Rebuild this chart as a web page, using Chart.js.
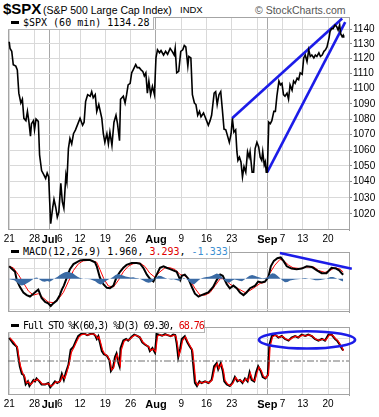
<!DOCTYPE html>
<html><head><meta charset="utf-8">
<script src="https://cdn.jsdelivr.net/npm/chart.js@4.4.0/dist/chart.umd.min.js"></script>
<style>
html,body{margin:0;padding:0;background:#fff;}
#wrap{position:relative;width:379px;height:417px;overflow:hidden;background:#fff;font-family:"Liberation Sans",Arial,sans-serif;}
canvas{position:absolute;left:0;}
.t{position:absolute;white-space:nowrap;color:#000;}
.lg{position:absolute;left:8px;height:12px;background:#fff;border-right:1px solid #b4b4b4;border-bottom:1px solid #b4b4b4;font-family:"DejaVu Sans Mono",monospace;font-size:10px;line-height:12px;white-space:nowrap;z-index:5;color:#000;}
.lg .mk{display:inline-block;width:8px;height:3px;background:#000;vertical-align:middle;margin:0 4px 2px 3px;}
</style></head><body>
<div id="wrap">
  <span class="t" style="left:3px;top:1px;font:bold 15px/15px 'Liberation Sans',Arial,sans-serif;">$SPX</span>
  <span class="t" style="left:43px;top:4px;font:10.5px/12px 'Liberation Sans',Arial,sans-serif;">(S&amp;P 500 Large Cap Index)</span>
  <span class="t" style="left:180px;top:4px;font:9.5px/12px 'Liberation Sans',Arial,sans-serif;">INDX</span>
  <span class="t" style="left:255px;top:4px;font:10.5px/12px 'Liberation Sans',Arial,sans-serif;color:#555;">© StockCharts.com</span>
  <canvas id="cA" width="379" height="245" style="top:0px"></canvas>
  <canvas id="cB" width="379" height="74" style="top:245px"></canvas>
  <canvas id="cC" width="379" height="97" style="top:320px"></canvas>
  <div class="lg" style="top:17px;width:145px"><span class="mk"></span>$SPX (60 min) 1134.28</div>
  <div class="lg" style="top:246px;width:221px"><span class="mk"></span>MACD(12,26,9) 1.960, <span style="color:#e00000">3.293</span>, <span style="color:#3d8fd1">-1.333</span></div>
  <div class="lg" style="top:320px;width:196px;letter-spacing:-1px"><span class="mk"></span>Full STO %K(60,3) %D(3) 69.30, <span style="color:#e00000">68.76</span></div>
</div>
<script>
// ---------- data (x = trading-day index from Jun 21, 2010) ----------
const gridDays   = [0, 5, 8, 10, 14, 19, 24, 29, 34, 39, 44, 49, 51, 54, 58, 63];
const gridLabels = ['21','28','Jul','6','12','19','26','Aug','9','16','23','','Sep','7','13','20'];
const monthDays  = [8, 29, 51];

const priceTicks = [1020,1030,1040,1050,1060,1070,1080,1090,1100,1110,1120,1130,1140];
const macdTicks  = [-15,-10,-5,0,5,10];
const macdLabels = [-10,0,10];
const stoTicks   = [0,10,20,30,40,60,70,80,90,100];
const stoLabels  = [20,50,80];

const price = [[0,1131.5],[0.16,1127],[0.5,1125],[0.8,1116],[1.3,1115],[1.6,1112.5],[1.9,1097],[2.3,1090.5],[2.6,1093],[2.9,1080.5],
[3.3,1079],[3.6,1085],[3.9,1078],[4.2,1069],[4.4,1077],[4.8,1079],[5.0,1073],[5.3,1080],[5.75,1078.5],[6.0,1057],
[6.4,1047],[6.9,1044],[7.2,1042],[7.5,1045.5],[7.8,1043],[8.0,1027.5],[8.2,1014],[8.6,1024],[8.85,1029],[9.2,1024],
[9.5,1018],[9.8,1021],[10.2,1039],[10.5,1027.5],[10.8,1023.5],[11.2,1044],[11.4,1040],[11.7,1061],[12.0,1067.5],[12.35,1064],
[12.7,1070.5],[13.1,1073],[13.7,1078],[14.0,1080.5],[14.5,1076],[14.8,1078],[15.1,1091.5],[15.5,1096],[16.0,1095],[16.3,1098],
[16.6,1094],[17.0,1096],[17.3,1085],[17.7,1089.5],[18.3,1080.5],[18.6,1070.5],[18.9,1065],[19.3,1070.5],[19.6,1064],[19.9,1071.5],
[20.3,1063],[20.7,1078],[21.1,1082.5],[21.4,1077],[21.8,1066],[22.0,1093],[22.55,1095],[22.9,1090.5],[23.2,1096],[23.5,1102.5],
[23.9,1103.5],[24.2,1110.5],[24.5,1112.5],[25.0,1116],[25.3,1114],[25.7,1114],[26.05,1112.5],[26.4,1111.5],[26.7,1108.5],[27.0,1110.5],
[27.3,1097],[27.6,1105],[27.95,1096],[28.3,1101.5],[28.7,1096],[29.0,1120.5],[29.3,1126],[29.7,1124],[30.0,1125.5],[30.5,1122.5],
[30.9,1125],[31.3,1123],[31.8,1127],[32.2,1125],[32.6,1122.5],[32.8,1127],[33.1,1110.5],[33.5,1111.5],[33.9,1125],[34.3,1126],
[34.6,1129],[34.9,1128],[35.3,1115],[35.5,1121.5],[35.9,1120.5],[36.2,1096],[36.6,1090.5],[36.9,1089.5],[37.25,1082.5],[37.6,1085],
[37.9,1081.5],[38.4,1084],[38.7,1081.5],[39.0,1079],[39.35,1076],[39.7,1079],[40.0,1082.5],[40.5,1097],[40.8,1098],[41.1,1089.5],
[41.45,1096],[41.8,1098],[42.1,1087],[42.45,1073.5],[42.8,1073],[43.2,1068.5],[43.5,1065],[43.85,1070.5],[44.1,1080.5],[44.4,1071.5],
[44.75,1073],[45.0,1059],[45.2,1053.5],[45.5,1055.5],[45.8,1052.5],[46.1,1043],[46.4,1049.5],[46.75,1046],[47.1,1059],[47.4,1055.5],
[47.6,1059],[48.0,1046],[48.3,1046],[48.6,1061],[48.95,1065],[49.3,1062],[49.6,1055.5],[49.9,1053.5],[50.1,1059],[50.4,1050.5],
[50.6,1052.5],[50.8,1046],[51.0,1046],[51.3,1078],[51.6,1077],[51.9,1079],[52.3,1085],[52.6,1085],[52.9,1095],[53.3,1105],
[53.6,1102.5],[53.9,1103.5],[54.2,1096],[54.5,1095],[54.9,1097],[55.2,1093],[55.5,1102.5],[55.9,1099],[56.2,1105],[56.5,1103.5],
[56.9,1107],[57.2,1106],[57.5,1110.5],[57.9,1109.5],[58.2,1120.5],[58.5,1122.5],[58.85,1118],[59.2,1126],[59.5,1121.5],[59.8,1122.5],
[60.2,1120.5],[60.5,1122.5],[60.8,1121.5],[61.2,1124],[61.5,1121.5],[61.85,1122.5],[62.2,1125],[62.5,1126],[62.8,1128],[63.2,1134],
[63.4,1138.5],[63.7,1140.5],[64.0,1140.5],[64.4,1143],[64.7,1142],[65.0,1139.5],[65.3,1143],[65.5,1137],[65.8,1135],[66.0,1136],[66.1,1134.28]];

const upperTrend = [[44.05,1080.5],[65.8,1147.5]];
const lowerTrend = [[51.0,1046],[66.4,1145]];

const macd = [[0,6.1],[0.3,5.4],[1.15,3.4],[1.5,-0.7],[2.1,-4.0],[2.8,-6.8],[3.45,-8.1],[4.1,-8.8],[4.8,-7.4],[5.4,-6.1],
[5.75,-5.4],[6.4,-9.5],[7.1,-11.5],[7.7,-12.2],[8.2,-13.5],[8.7,-12.2],[9.4,-10.8],[10.0,-8.1],[10.4,-5.4],[10.8,-3.4],
[11.4,0.7],[12.0,4.7],[12.7,7.2],[13.3,8.1],[14.0,9.0],[15.0,9.4],[16.0,9.2],[16.95,8.1],[17.3,6.1],[17.9,0.7],
[18.6,-2.7],[19.3,-4.5],[19.9,-4.7],[20.6,-3.4],[21.2,0.7],[21.9,3.4],[22.55,5.4],[23.2,6.8],[24.2,7.7],[25.2,7.7],
[25.85,7.4],[26.5,5.4],[27.2,2.0],[27.8,0.0],[28.5,-1.4],[29.15,2.0],[29.8,5.4],[30.5,6.1],[31.1,5.4],[31.8,4.7],
[32.4,4.1],[33.1,3.4],[33.8,-0.7],[34.1,1.4],[34.7,2.0],[35.4,0.0],[36.1,-4.1],[36.7,-7.4],[37.4,-8.8],[38.0,-8.1],
[38.7,-7.4],[39.35,-6.8],[40.3,-4.1],[41.0,-0.7],[41.7,2.0],[42.2,1.4],[43.0,-2.7],[43.6,-4.7],[44.3,-3.4],[44.95,-4.7],
[45.6,-6.8],[46.3,-8.1],[46.9,-6.8],[47.6,-4.7],[48.6,-3.4],[49.2,-1.4],[49.9,-1.8],[50.55,-1.4],[51.2,0.65],[51.7,6.1],
[52.3,8.8],[53.0,10.1],[53.65,10.5],[54.2,8.8],[54.85,6.1],[55.8,5.0],[56.8,4.7],[57.8,5.0],[58.8,6.1],[59.8,5.8],
[60.8,4.1],[61.75,2.7],[62.7,2.7],[63.7,5.4],[64.6,5.0],[65.2,4.1],[65.7,2.7],[66.0,1.96]];

const signal = [[0,6.1],[0.8,5.4],[1.8,2.0],[2.8,-2.0],[3.8,-6.1],[4.8,-8.1],[5.75,-7.4],[6.75,-9.5],[7.7,-11.5],[8.7,-11.8],
[9.7,-10.1],[10.7,-6.8],[11.7,-1.4],[12.7,4.1],[13.7,7.4],[14.6,8.8],[16.0,9.1],[17.3,8.1],[17.9,4.7],[18.7,0.0],
[19.6,-3.6],[20.6,-4.1],[21.6,-0.7],[22.55,3.4],[23.5,6.1],[24.5,7.4],[25.85,7.7],[26.8,6.1],[27.8,2.7],[28.8,0.7],
[29.8,3.4],[30.8,5.4],[31.8,5.4],[32.8,4.5],[33.8,2.0],[34.7,1.4],[35.7,-0.7],[36.7,-4.7],[37.7,-8.1],[38.7,-8.1],
[39.7,-6.8],[40.7,-3.4],[41.7,0.0],[42.6,0.0],[43.6,-2.7],[44.6,-4.1],[45.6,-5.4],[46.6,-6.8],[47.6,-5.8],[48.6,-4.1],
[49.6,-2.3],[50.5,-1.8],[51.5,2.7],[52.5,6.7],[53.5,9.5],[54.2,9.0],[55.2,6.7],[56.1,5.4],[57.5,5.0],[58.8,5.8],
[60.2,5.8],[61.1,4.1],[62.4,3.1],[63.4,4.1],[64.4,5.4],[65.4,4.7],[66.0,3.293]];

const histo = [[0,-0.3],[0.5,-0.5],[1,-0.8],[1.5,-1.8],[2,-2.8],[2.5,-3.4],[3,-3.0],[3.5,-2.2],[4,-1.5],[4.5,-0.6],
[5,0.3],[5.5,0.6],[6,-0.4],[6.5,-1.2],[7,-1.5],[7.5,-1.1],[8,-1.5],[8.5,-0.8],[9,0.2],[9.5,0.9],
[10,1.8],[10.5,2.6],[11,3.2],[11.5,3.4],[12,3.1],[12.5,2.8],[13,1.8],[13.5,1.0],[14,0.3],[14.5,0.1],
[15,-0.2],[15.5,-0.1],[16,-0.3],[16.5,-0.8],[17,-1.2],[17.5,-2.2],[18,-2.8],[18.5,-2.5],[19,-1.2],[19.5,-0.5],
[20,0.1],[20.5,0.8],[21,1.8],[21.5,2.3],[22,2.0],[22.5,1.6],[23,1.1],[23.5,0.8],[24,0.6],[24.5,0.7],
[25,0.4],[25.5,0.2],[26,-0.3],[26.5,-0.9],[27,-1.6],[27.5,-2.0],[28,-1.8],[28.5,-0.8],[29,0.6],[29.5,1.5],
[30,1.3],[30.5,0.7],[31,0.2],[31.5,-0.2],[32,-0.4],[32.5,-0.3],[33,-0.6],[33.5,-1.0],[34,-0.3],[34.5,0.3],
[35,-0.2],[35.5,-1.2],[36,-2.4],[36.5,-2.8],[37,-1.8],[37.5,-0.6],[38,0.2],[38.5,0.6],[39,0.8],[39.5,1.0],
[40,1.3],[40.5,2.0],[41,2.6],[41.5,2.2],[42,1.0],[42.5,-0.8],[43,-1.8],[43.5,-2.0],[44,-1.0],[44.5,-0.4],
[45,-0.6],[45.5,-1.0],[46,-1.2],[46.5,-0.4],[47,0.6],[47.5,1.4],[48,1.8],[48.5,1.5],[49,1.0],[49.5,0.6],
[50,0.2],[50.5,0.4],[51,0.6],[51.5,2.0],[52,2.7],[52.5,2.5],[53,1.4],[53.5,0.3],[54,-0.9],[54.5,-1.8],
[55,-1.6],[55.5,-0.9],[56,-0.6],[56.5,-0.4],[57,-0.3],[57.5,-0.1],[58,0.2],[58.5,0.3],[59,0.1],[59.5,-0.2],
[60,-0.4],[60.5,-0.7],[61,-0.8],[61.5,-0.6],[62,-0.4],[62.5,-0.2],[63,0.4],[63.5,0.9],[64,0.8],[64.5,0.3],
[65,-0.2],[65.5,-0.9],[66,-1.333]];

const macdTrend = [[53.5,12.7],[67.7,4.9]];

const stoK = [[0,92],[0.8,81.7],[1.5,76],[1.8,57],[2.1,40],[2.5,26.6],[2.9,24],[3.25,7.4],[3.7,13],[4.0,4.6],
[4.4,10],[4.8,15.6],[5.1,13],[5.4,18.4],[5.95,13],[6.4,7.4],[7.1,7.4],[7.7,10],[8.1,1.9],[8.6,7.4],
[9.05,13],[9.5,10],[10.0,13],[10.4,26.6],[10.8,15.6],[11.2,29.4],[11.7,43],[12.15,70.6],[12.7,76],[13.2,87],
[13.65,95.4],[14.2,99],[14.8,100],[15.4,97],[16.0,99],[16.6,100],[17.0,96],[17.3,89.9],[17.6,95],[17.9,84],
[18.3,68],[18.7,62.4],[19.3,59.6],[19.8,51.4],[20.1,32],[20.5,37.6],[20.9,57],[21.2,63.5],[21.6,45.9],[21.8,40.4],
[22.0,73.4],[22.55,87.2],[23.1,90],[23.5,87],[24.2,94],[24.7,98],[25.2,96],[25.8,93],[26.3,84],[26.8,80],
[27.5,76],[27.8,68],[28.3,73.4],[28.8,65],[29.15,99],[29.6,98],[30.2,96],[30.8,99],[31.3,97],[31.9,95],
[32.4,98],[32.8,97],[33.1,81.7],[33.4,57],[33.8,73.4],[34.1,90],[34.7,95],[35.2,84],[35.7,76],[36.1,70.6],
[36.4,40],[36.7,10],[37.1,4.6],[37.6,13],[38.0,10],[38.7,13],[39.35,10],[40.0,15.6],[40.5,40.4],[41.0,46],
[41.3,35],[41.8,46],[42.2,32],[42.5,13],[43.0,7.4],[43.6,4.6],[44.1,10],[44.6,21],[45.1,13],[45.6,15.6],
[46.1,10],[46.6,18.4],[47.1,13],[47.5,29.4],[47.9,15.6],[48.4,13],[48.8,29.4],[49.2,40.4],[49.7,32],[50.1,21],
[50.6,18.4],[51.1,24],[51.4,79],[51.9,95.4],[52.5,98],[53.2,92.6],[53.85,95.4],[54.5,90],[55.2,87],[55.8,92.6],
[56.5,95.4],[57.1,92.6],[57.8,98],[58.5,95.4],[59.1,98],[59.8,95.4],[60.4,90],[61.1,87],[61.8,90],[62.4,87],
[63.1,98],[63.7,98],[64.4,90],[64.8,87],[65.2,81.6],[65.7,73.4],[66.0,69.3]];

const stoD = [[0.15,92],[0.95,84],[1.65,74],[1.95,55],[2.25,40],[2.65,28],[3.05,22],[3.4,10],[3.85,12],[4.15,7],
[4.55,10],[4.95,15],[5.25,14],[5.55,17],[6.1,13],[6.55,8],[7.25,8],[7.85,9],[8.25,4],[8.75,7],
[9.2,12],[9.65,11],[10.15,14],[10.55,24],[10.95,18],[11.35,28],[11.85,45],[12.3,66],[12.85,76],[13.35,86],
[13.8,94],[14.35,98],[14.95,99],[15.55,97],[16.15,99],[16.75,99],[17.15,96],[17.45,91],[17.75,94],[18.05,84],
[18.45,70],[18.85,63],[19.45,59],[19.95,50],[20.25,34],[20.65,38],[21.05,55],[21.35,62],[21.75,48],[21.95,42],
[22.15,70],[22.7,86],[23.25,89],[23.65,88],[24.35,94],[24.85,97],[25.35,96],[25.95,92],[26.45,84],[26.95,80],
[27.65,75],[27.95,69],[28.45,72],[28.95,67],[29.3,95],[29.75,98],[30.35,96],[30.95,98],[31.45,97],[32.05,95],
[32.55,97],[32.95,95],[33.25,80],[33.55,60],[33.95,72],[34.25,87],[34.85,94],[35.35,84],[35.85,76],[36.25,69],
[36.55,42],[36.85,13],[37.25,6],[37.75,12],[38.15,10],[38.85,13],[39.5,10],[40.15,16],[40.65,38],[41.15,45],
[41.45,36],[41.95,45],[42.35,32],[42.65,15],[43.15,8],[43.75,5],[44.25,10],[44.75,20],[45.25,14],[45.75,15],
[46.25,11],[46.75,18],[47.25,14],[47.65,28],[48.05,17],[48.55,14],[48.95,28],[49.35,39],[49.85,32],[50.25,22],
[50.75,19],[51.25,26],[51.55,76],[52.05,94],[52.65,97],[53.35,93],[54.0,95],[54.65,90],[55.35,88],[55.95,92],
[56.65,95],[57.25,93],[57.95,97],[58.65,95.5],[59.25,97.5],[59.95,95],[60.55,90],[61.25,87.5],[61.95,89.5],[62.55,87.5],
[63.25,97],[63.85,97],[64.55,90],[64.95,87],[65.35,81],[65.85,73],[66.05,68.76]];

const stoMidLevel = [50];
const ellipseCenter = [58.85, 88.5];   // [day, %K]
const ellipseRadius = [9.5, 15.7];      // [days, %K units]

// ---------- config ----------
const X_MIN = -0.24, X_MAX = 67.15;
const FONT = "'Liberation Sans', Arial, sans-serif";
const BLUE = '#1c1ce8';
const pts = arr => arr.map(p => ({x: p[0], y: p[1]}));

function xScale(showLabels, h) {
  return {
    type: 'linear', position: 'bottom', min: X_MIN, max: X_MAX,
    afterBuildTicks: s => { s.ticks = gridDays.map(v => ({value: v})); },
    ticks: {
      display: showLabels, autoSkip: false, maxRotation: 0, minRotation: 0, padding: 3, color: '#000',
      callback: (v, i) => gridLabels[i],
      font: c => monthDays.includes(gridDays[c.index]) ? {family: FONT, size: 11, weight: 'bold'} : {family: FONT, size: 10}
    },
    grid: { drawTicks: false, lineWidth: 1,
      color: c => (c.tick && monthDays.includes(c.tick.value)) ? '#a8a8a8' : '#d9d9d9' },
    border: { display: false },
    afterFit: s => { s.height = h; }
  };
}

const framePlugin = {
  id: 'frame',
  beforeDatasetsDraw(chart) {
    const a = chart.chartArea, c = chart.ctx;
    c.save(); c.strokeStyle = '#a4a4a4'; c.lineWidth = 1;
    c.strokeRect(Math.round(a.left) + 0.5, Math.round(a.top) + 0.5, Math.round(a.right - a.left), Math.round(a.bottom - a.top) - 1);
    c.restore();
  }
};

const baseOpts = (padTop) => ({
  responsive: false, animation: false, devicePixelRatio: 1, events: [],
  layout: { padding: { left: 8, top: padTop, right: 0, bottom: 0 } },
  plugins: { legend: { display: false }, tooltip: { enabled: false } },
  elements: { point: { radius: 0 }, line: { tension: 0 } }
});

Chart.defaults.font.family = FONT;

// ---- Price panel ----
new Chart(document.getElementById('cA'), {
  type: 'line',
  data: { datasets: [
    { data: pts(price), borderColor: '#000', borderWidth: 1.6, fill: false },
    { data: pts(upperTrend), borderColor: BLUE, borderWidth: 2.6, fill: false },
    { data: pts(lowerTrend), borderColor: BLUE, borderWidth: 2.6, fill: false }
  ]},
  options: Object.assign(baseOpts(17), {
    scales: {
      x: xScale(true, 15),
      y: { type: 'logarithmic', position: 'right', min: 1010.2, max: 1148.5,
        afterBuildTicks: s => { s.ticks = priceTicks.map(v => ({value: v})); },
        ticks: { callback: v => String(v), padding: 1, color: '#000', font: {family: FONT, size: 10} },
        grid: { color: '#d9d9d9', tickLength: 3, tickColor: '#888', drawTicks: true },
        border: { display: true, color: '#999' },
        afterFit: s => { s.width = 30; } }
    }
  }),
  plugins: [framePlugin]
});

// ---- MACD panel ----
new Chart(document.getElementById('cB'), {
  type: 'line',
  data: { datasets: [
    { data: pts(histo), borderColor: 'rgba(0,0,0,0)', borderWidth: 0, backgroundColor: '#3a6aa4', fill: 'origin' },
    { data: pts(macd), borderColor: '#000', borderWidth: 2, fill: false },
    { data: pts(signal), borderColor: '#ff0000', borderWidth: 1, fill: false },
    { data: pts(macdTrend), borderColor: BLUE, borderWidth: 2.6, fill: false, clip: false }
  ]},
  options: Object.assign(baseOpts(1), {
    scales: {
      x: xScale(false, 0),
      y: { type: 'linear', position: 'right', min: -16.43, max: 13.18,
        afterBuildTicks: s => { s.ticks = macdTicks.map(v => ({value: v})); },
        ticks: { callback: v => macdLabels.includes(v) ? String(v) : '', padding: 1, color: '#000', font: {family: FONT, size: 10} },
        grid: { color: '#dedede', tickLength: 3, tickColor: c => macdLabels.includes(c.tick.value) ? '#888' : 'rgba(0,0,0,0)' },
        border: { display: true, color: '#999' },
        afterFit: s => { s.width = 30; } }
    }
  }),
  plugins: [framePlugin]
});

// ---- Full STO panel ----
const ellipsePlugin = {
  id: 'ellipse',
  afterDatasetsDraw(chart) {
    const xs = chart.scales.x, ys = chart.scales.y, c = chart.ctx;
    const cx = xs.getPixelForValue(ellipseCenter[0]), cy = ys.getPixelForValue(ellipseCenter[1]);
    const rx = Math.abs(xs.getPixelForValue(ellipseCenter[0] + ellipseRadius[0]) - cx);
    const ry = Math.abs(ys.getPixelForValue(ellipseCenter[1] + ellipseRadius[1]) - cy);
    c.save(); c.beginPath(); c.ellipse(cx, cy, rx, ry, 0, 0, Math.PI * 2);
    c.strokeStyle = BLUE; c.lineWidth = 2.6; c.stroke(); c.restore();
  }
};
new Chart(document.getElementById('cC'), {
  type: 'line',
  data: { datasets: [
    { data: [{x: X_MIN, y: stoMidLevel[0]}, {x: X_MAX, y: stoMidLevel[0]}], borderColor: '#707070', borderWidth: 1, borderDash: [7, 2, 2, 2], fill: false },
    { data: pts(stoD), borderColor: '#ff0000', borderWidth: 1.2, fill: false },
    { data: pts(stoK), borderColor: '#000', borderWidth: 2, fill: false }
  ]},
  options: Object.assign(baseOpts(0), {
    scales: {
      x: xScale(true, 22),
      y: { type: 'linear', position: 'right', min: -11.8, max: 111.8,
        afterBuildTicks: s => { s.ticks = stoTicks.concat(stoMidLevel).sort((a,b)=>a-b).map(v => ({value: v})); },
        ticks: { callback: v => stoLabels.includes(v) ? String(v) : '', padding: 1, color: '#000', font: {family: FONT, size: 10} },
        grid: { color: c => (c.tick.value === 20 || c.tick.value === 80) ? '#707070' : (c.tick.value === 50 ? 'rgba(0,0,0,0)' : '#e2e2e2'),
                tickLength: 3, tickColor: c => stoLabels.includes(c.tick.value) ? '#888' : 'rgba(0,0,0,0)' },
        border: { display: true, color: '#999' },
        afterFit: s => { s.width = 30; } }
    }
  }),
  plugins: [framePlugin, ellipsePlugin]
});
</script>
</body></html>
